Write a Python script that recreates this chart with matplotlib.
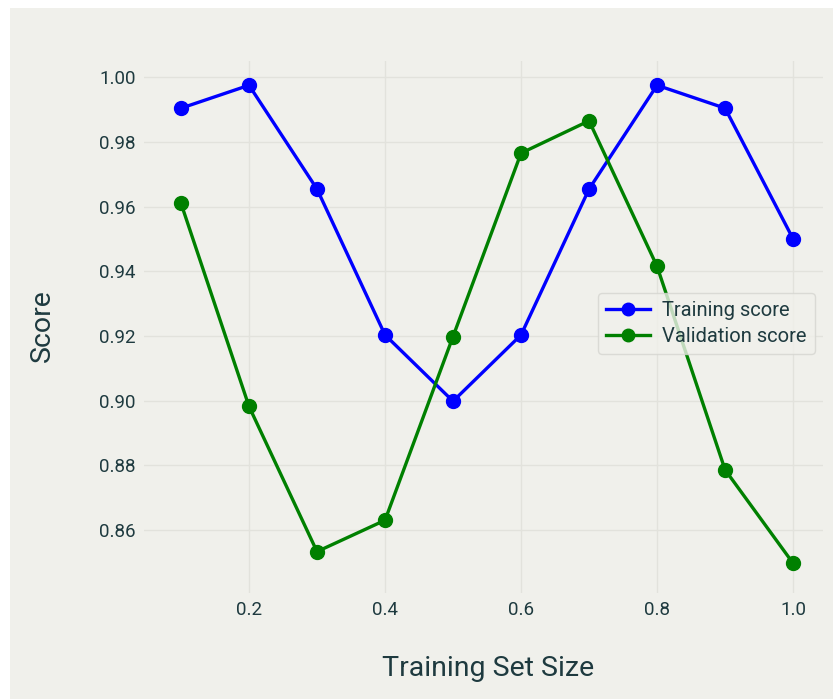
import matplotlib.pyplot as plt
from matplotlib.patches import Rectangle

# Data
sizes = [0.1, 0.2, 0.3, 0.4, 0.5, 0.6, 0.7, 0.8, 0.9, 1.0]
train_scores = [0.9904, 0.9975, 0.9654, 0.9203, 0.8998, 0.9203, 0.9654, 0.9975, 0.9904, 0.950]
val_scores = [0.9610, 0.8982, 0.8533, 0.8630, 0.9198, 0.9765, 0.9865, 0.9415, 0.8786, 0.8497]
x_ticks = [0.2, 0.4, 0.6, 0.8, 1.0]
y_ticks = [0.86, 0.88, 0.90, 0.92, 0.94, 0.96, 0.98, 1.00]

bg = '#f0f0eb'
text_color = '#1e3a3f'
plt.rcParams['font.family'] = ['Roboto', 'DejaVu Sans']

fig = plt.figure(figsize=(8.33, 6.99), dpi=100, facecolor='white')
fig.add_artist(Rectangle((10 / 833, 0), 1, 1 - 8 / 699, transform=fig.transFigure,
                         facecolor=bg, edgecolor='none', zorder=-10))
ax = fig.add_axes([144 / 833, 1 - 593 / 699, (823 - 144) / 833, (593 - 61) / 699])
ax.set_facecolor(bg)

ax.plot(sizes, train_scores, color='blue', marker='o', linewidth=2.4, markersize=10,
        label='Training score')
ax.plot(sizes, val_scores, color='green', marker='o', linewidth=2.4, markersize=10,
        label='Validation score')

ax.set_xlim(0.0456, 1.044)
ax.set_ylim(0.8405, 1.005)
ax.set_xticks(x_ticks)
ax.set_xticklabels([f'{v:.1f}' for v in x_ticks])
ax.set_yticks(y_ticks)
ax.set_yticklabels([f'{v:.2f}' for v in y_ticks])
ax.grid(True, color='#e2e2dc', linewidth=1)
ax.set_axisbelow(True)
for s in ax.spines.values():
    s.set_visible(False)
ax.tick_params(length=0, labelsize=13.5, labelcolor=text_color, pad=6)

ax.set_xlabel('Training Set Size', fontsize=20.5, color=text_color)
ax.set_ylabel('Score', fontsize=20.5, color=text_color)
ax.xaxis.set_label_coords(0.506, -0.141)
ax.xaxis.label.set_va('center')
ax.yaxis.set_label_coords(-0.150, 0.502)
ax.yaxis.label.set_va('center')

leg = ax.legend(loc='center right', bbox_to_anchor=(0.988, 0.506), fontsize=14.5,
                frameon=True, facecolor=bg, edgecolor='#d5d5d0', framealpha=0.8,
                handlelength=2.2, borderpad=0.4, labelspacing=0.35, handletextpad=0.6,
                borderaxespad=0, markerscale=0.9)
for t in leg.get_texts():
    t.set_color(text_color)

fig.savefig('out.png', dpi=100, facecolor='white')
